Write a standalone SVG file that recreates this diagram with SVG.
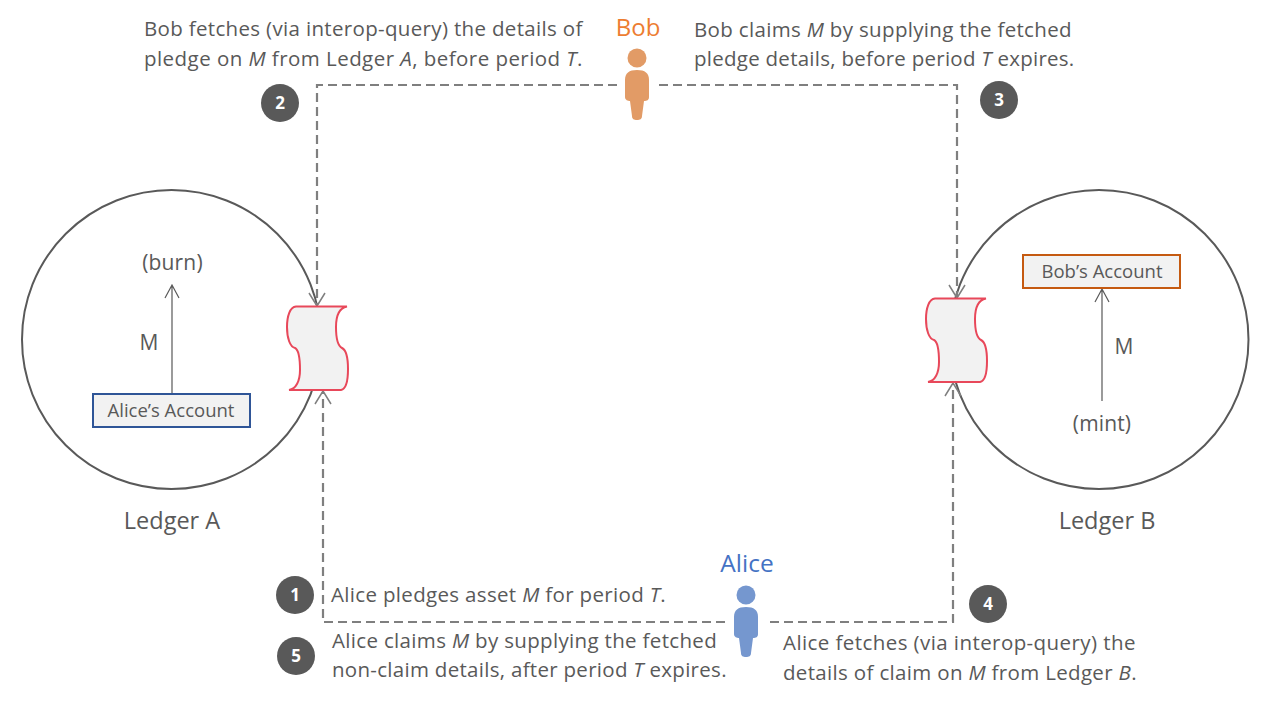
<svg xmlns="http://www.w3.org/2000/svg" width="1271" height="703" viewBox="0 0 1271 703">
<style>
text{font-family:"Open Sans","Noto Sans","Liberation Sans",sans-serif;fill:#595959;font-size:20.500px}
.s{font-size:20.500px;letter-spacing:.33px}
.f{font-size:21px;letter-spacing:.15px}
.l{font-size:23.500px}
.acc{font-size:18.500px;text-anchor:middle}
.i{font-style:italic}
.ledger{fill:none;stroke:#595959;stroke-width:2}
.scroll{fill:#f2f2f2;stroke:#e8485a;stroke-width:2}
.dash{fill:none;stroke:#7f7f7f;stroke-width:2.200;stroke-dasharray:9 5}
.ah{fill:none;stroke:#7f7f7f;stroke-width:1.500}
.flow{fill:none;stroke:#595959;stroke-width:1.200}
.num{fill:#595959}
.numt{fill:#fff;font-size:17px;font-weight:700;text-anchor:middle}
</style>
<rect width="1271" height="703" fill="#fff"/>
<g id="ledger-a">
<circle class="ledger" cx="171.500" cy="339.500" r="149.500"/>
<text class="l" x="172" y="529" text-anchor="middle">Ledger A</text>
<text class="f" x="172.500" y="270" text-anchor="middle">(burn)</text>
<text class="f" x="149" y="350" text-anchor="middle">M</text>
</g>
<g id="ledger-b">
<circle class="ledger" cx="1099" cy="339.500" r="149.500"/>
<text class="l" x="1107" y="529" text-anchor="middle">Ledger B</text>
<text class="f" x="1102" y="431" text-anchor="middle">(mint)</text>
<text class="f" x="1124" y="354" text-anchor="middle">M</text>
</g>
<g id="connectors">
<path class="dash" d="M617 85H317V305"/>
<path class="ah" d="M309 293L317 306L325 293"/>
<path class="dash" d="M659 85H957V297"/>
<path class="ah" d="M949 285L957 298L965 285"/>
<path class="dash" d="M725 622H323V392"/>
<path class="ah" d="M315 404L323 391L331 404"/>
<path class="dash" d="M770 622H953V384"/>
<path class="ah" d="M945 396L953 383L961 396"/>
<path class="flow" d="M172 393V285M165 298L172 285L179 298"/>
<path class="flow" d="M1102 401V289M1095 302L1102 289L1109 302"/>
</g>
<g id="alice-account">
<rect x="93" y="394" width="157" height="33" fill="#f2f2f2" stroke="#2f5597" stroke-width="2"/>
<text class="acc" x="171" y="417">Alice’s Account</text>
</g>
<g id="bob-account">
<rect x="1023" y="255" width="157" height="33" fill="#f2f2f2" stroke="#c55a11" stroke-width="2"/>
<text class="acc" x="1102" y="278">Bob’s Account</text>
</g>
<g id="contract-a">
<path class="scroll" d="M347 306.500H296C290 307 287 316 287 327C287 338 290 347 295 348C299 350 300 360 300 370C300 381 296 389 289 390H341C346 389 348 380 348 369C348 358 346 350 342 348C338 346 336 337 336 327C336 316 339 308 347 306.500Z"/>
</g>
<g id="contract-b">
<path class="scroll" d="M986 298.500H935C929 299 926 308 926 319C926 330 929 339 934 340C938 342 939 352 939 362C939 373 935 381 928 382H980C985 381 987 372 987 361C987 350 985 342 981 340C977 338 975 329 975 319C975 308 978 300 986 298.500Z"/>
</g>
<g id="bob">
<text x="638" y="36" text-anchor="middle" style="fill:#ed7d31;font-size:24px">Bob</text>
<circle cx="637" cy="58" r="9.500" fill="#e29b66"/>
<path d="M637 70C629 70 625 73 625 80V97C625 100 628 101 630 101L632 116C632 119 634 120 637 120C640 120 642 119 642 116L644 101C647 101 649 100 649 97V80C649 73 645 70 637 70Z" fill="#e29b66"/>
</g>
<g id="alice">
<text x="747" y="572" text-anchor="middle" style="fill:#4472c4;font-size:24.500px">Alice</text>
<circle cx="746" cy="595" r="9.500" fill="#7597cf"/>
<path d="M746 607C738 607 734 610 734 617V634C734 637 737 638 739 638L741 653C741 656 743 657 746 657C749 657 751 656 751 653L753 638C756 638 758 637 758 634V617C758 610 754 607 746 607Z" fill="#7597cf"/>
</g>
<g id="step-1"><circle class="num" cx="295" cy="595" r="19"/><text class="numt" x="295" y="601">1</text></g>
<g id="step-2"><circle class="num" cx="280" cy="103" r="19"/><text class="numt" x="280" y="109">2</text></g>
<g id="step-3"><circle class="num" cx="999" cy="100" r="19"/><text class="numt" x="999" y="106">3</text></g>
<g id="step-4"><circle class="num" cx="988" cy="604" r="19"/><text class="numt" x="988" y="610">4</text></g>
<g id="step-5"><circle class="num" cx="296" cy="656" r="19"/><text class="numt" x="296" y="662">5</text></g>
<g id="labels">
<text class="s" x="144" y="36">Bob fetches (via interop-query) the details of</text>
<text class="s" x="144" y="66" style="letter-spacing:.45px">pledge on <tspan class="i">M</tspan> from Ledger <tspan class="i">A</tspan>, before period <tspan class="i">T</tspan>.</text>
<text class="s" x="694" y="37">Bob claims <tspan class="i">M</tspan> by supplying the fetched</text>
<text class="s" x="694" y="66" style="letter-spacing:.26px">pledge details, before period <tspan class="i">T</tspan> expires.</text>
<text class="s" x="331" y="602">Alice pledges asset <tspan class="i">M</tspan> for period <tspan class="i">T</tspan>.</text>
<text class="s" x="332" y="648">Alice claims <tspan class="i">M</tspan> by supplying the fetched</text>
<text class="s" x="332" y="677" style="letter-spacing:.29px">non-claim details, after period <tspan class="i">T</tspan> expires.</text>
<text class="s" x="783" y="650" style="letter-spacing:.42px">Alice fetches (via interop-query) the</text>
<text class="s" x="783" y="680">details of claim on <tspan class="i">M</tspan> from Ledger <tspan class="i">B</tspan>.</text>
</g>
</svg>
